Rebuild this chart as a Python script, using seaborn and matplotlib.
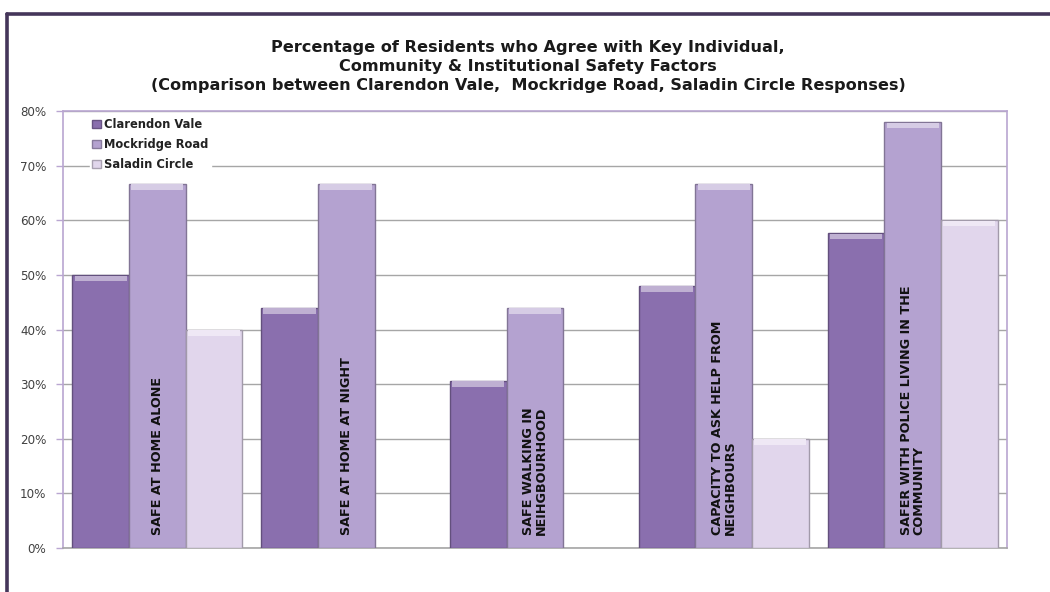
import matplotlib
matplotlib.use("Agg")
import matplotlib.pyplot as plt
from matplotlib.patches import Rectangle
from matplotlib.lines import Line2D
import matplotlib.colors as mcolors
import numpy as np
import pandas as pd
import seaborn as sns

# Survey categories (labels drawn vertically inside each group)
categories = [
    "SAFE AT HOME ALONE",
    "SAFE AT HOME AT NIGHT",
    "SAFE WALKING IN\nNEIHGBOURHOOD",
    "CAPACITY TO ASK HELP FROM\nNEIGHBOURS",
    "SAFER WITH POLICE LIVING IN THE\nCOMMUNITY",
]
series = ["Clarendon Vale", "Mockridge Road", "Saladin Circle"]

# Percentage of residents who agree (NaN = no response recorded)
clarendon_vale = [50.0, 44.0, 30.6, 48.0, 57.6]
mockridge_road = [66.7, 66.7, 44.0, 66.7, 78.0]
saladin_circle = [40.0, np.nan, np.nan, 20.0, 60.0]

y_ticks = [0, 10, 20, 30, 40, 50, 60, 70, 80]

colors = ["#8a6fae", "#b4a2d0", "#e1d6ec"]

df = pd.DataFrame({
    "category": categories * 3,
    "area": [s for s in series for _ in categories],
    "pct": clarendon_vale + mockridge_road + saladin_circle,
})

sns.set_theme(style="white")
plt.rcParams["font.family"] = ["DejaVu Sans"]

fig = plt.figure(figsize=(10.5, 5.92), dpi=100)
ax = fig.add_axes([0.060, 0.0743, 0.899, 0.738])

sns.barplot(
    data=df, x="category", y="pct", hue="area",
    order=categories, hue_order=series, palette=colors, saturation=1,
    width=0.9, gap=0, dodge=True, errorbar=None, ax=ax,
    legend=False, zorder=3,
)

# Bevel look: darker outline plus a light strip along the top of each bar
for patch in list(ax.patches):
    h = patch.get_height()
    if not np.isfinite(h) or h <= 0:
        continue
    base = np.array(mcolors.to_rgb(patch.get_facecolor()))
    patch.set_edgecolor(tuple(base * 0.72))
    patch.set_linewidth(1.0)
    light = tuple(np.clip(base + (1 - base) * 0.45, 0, 1))
    ax.add_patch(Rectangle(
        (patch.get_x() + patch.get_width() * 0.04, h - 1.1),
        patch.get_width() * 0.92, 1.0,
        facecolor=light, edgecolor="none", zorder=4,
    ))

ax.set_ylim(0, 80)
ax.set_xlim(-0.5, len(categories) - 0.5)
ax.set_yticks(y_ticks)
ax.set_yticklabels([f"{t}%" for t in y_ticks], fontsize=8.6, color="#404040")
ax.set_xticks([])
ax.set_xlabel("")
ax.set_ylabel("")

ax.yaxis.grid(True, color="#a6a6a6", linewidth=1.0, zorder=0)
ax.set_axisbelow(True)
ax.tick_params(axis="y", length=5, width=1, color="#b9a6d1", left=True, pad=7)

for side in ["left", "top", "right"]:
    ax.spines[side].set_color("#b9a6d1")
    ax.spines[side].set_linewidth(1.2)
ax.spines["bottom"].set_color("#a6a6a6")
ax.spines["bottom"].set_linewidth(1.2)

# Category names written up the middle of each group
for i, label in enumerate(categories):
    ax.text(i, 2.3, label, rotation=90, ha="center", va="bottom",
            multialignment="left", fontsize=9.2, fontweight="bold",
            color="#111111", linespacing=1.0, zorder=6)

handles = [Rectangle((0, 0), 1, 1, facecolor=c, edgecolor=tuple(np.array(mcolors.to_rgb(c)) * 0.75))
           for c in colors]
leg = ax.legend(handles, series, loc="upper left", bbox_to_anchor=(0.026, 0.995),
                frameon=True, fancybox=False, framealpha=1.0, edgecolor="white",
                prop={"size": 8.3, "weight": "bold"}, handlelength=0.75,
                handleheight=0.75, handletextpad=0.3, labelspacing=0.62,
                borderpad=0.2, borderaxespad=0.2)
leg.set_zorder(7)
for t in leg.get_texts():
    t.set_color("#222222")

fig.text(0.503, 0.888,
         "Percentage of Residents who Agree with Key Individual,\n"
         "Community & Institutional Safety Factors\n"
         "(Comparison between Clarendon Vale,  Mockridge Road, Saladin Circle Responses)",
         ha="center", va="center", fontsize=11.6, fontweight="bold",
         color="#1a1a1a", linespacing=1.32)

# Outer chart frame (top and left edges)
frame_color = "#45365a"
fig.add_artist(Line2D([0.0067, 1.0], [0.9765, 0.9765], color=frame_color,
                      linewidth=2.6, transform=fig.transFigure))
fig.add_artist(Line2D([0.0067, 0.0067], [0.0, 0.9765], color=frame_color,
                      linewidth=2.6, transform=fig.transFigure))

fig.savefig("out.png", dpi=100)
